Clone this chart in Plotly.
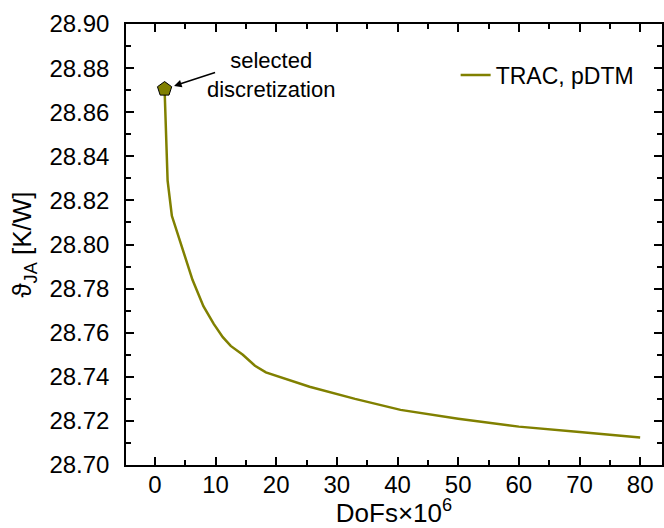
import plotly.graph_objects as go

# Data
dofs = [1.6, 1.8, 2.1, 2.8, 3.6, 4.6, 6.2, 8.0, 9.7, 11.2, 12.5, 14.5, 16.5, 18.3,
        25.5, 33.0, 40.5, 50.0, 60.0, 70.0, 80.0]
theta_ja = [28.8705, 28.850, 28.829, 28.813, 28.806, 28.798, 28.784, 28.772, 28.764,
            28.758, 28.754, 28.750, 28.745, 28.742, 28.7355, 28.730, 28.725, 28.721,
            28.7174, 28.715, 28.7125]
selected_x = [1.6]
selected_y = [28.8705]
series_name = "TRAC, pDTM"
x_title = "DoFs×10<sup>6</sup>"
y_title = "ϑ<sub>JA</sub> [K/W]"

olive = "#808000"
font_family = "Liberation Sans, Arial, sans-serif"

fig = go.Figure()
fig.add_trace(go.Scatter(
    x=dofs, y=theta_ja, mode="lines", name=series_name,
    line=dict(color=olive, width=2.5),
))
fig.add_trace(go.Scatter(
    x=selected_x, y=selected_y, mode="markers", showlegend=False,
    marker=dict(symbol="pentagon", size=15, color=olive,
                line=dict(color="black", width=1)),
))

# arrow (no text)
fig.add_annotation(
    x=selected_x[0], y=selected_y[0], xref="x", yref="y",
    text="", showarrow=True,
    ax=52, ay=-17, axref="pixel", ayref="pixel",
    arrowhead=2, arrowsize=1, arrowwidth=1.5, arrowcolor="black",
    standoff=10,
)
# label text
fig.add_annotation(
    x=selected_x[0], y=selected_y[0], xref="x", yref="y",
    text="selected<br>discretization", showarrow=False,
    xshift=106, yshift=14, align="center",
    font=dict(family=font_family, size=22, color="black"),
)

axis_common = dict(
    showline=True, linecolor="black", linewidth=1.5, mirror="ticks",
    ticks="inside", ticklen=8, tickwidth=1.5, tickcolor="black",
    showgrid=False, zeroline=False,
    tickfont=dict(family=font_family, size=24, color="black"),
)

fig.update_xaxes(
    **axis_common,
    range=[-4.76, 83.6], tick0=0, dtick=10,
    minor=dict(dtick=5, ticks="inside", ticklen=5, tickwidth=1.5, tickcolor="black"),
    title=dict(text=x_title, font=dict(family=font_family, size=26, color="black"),
               standoff=12),
    ticklabelstandoff=-3,
)
fig.update_yaxes(
    **axis_common,
    range=[28.70, 28.90], tick0=28.70, dtick=0.02, tickformat=".2f",
    minor=dict(dtick=0.01, ticks="inside", ticklen=5, tickwidth=1.5, tickcolor="black"),
    title=dict(text=y_title, font=dict(family=font_family, size=26, color="black"),
               standoff=10),
    ticklabelstandoff=10,
)

fig.update_layout(
    width=664, height=528,
    margin=dict(l=126, r=0, t=24, b=63),
    paper_bgcolor="white", plot_bgcolor="white",
    font=dict(family=font_family, color="black"),
    legend=dict(x=0.615, y=0.884, xanchor="left", yanchor="middle",
                bgcolor="rgba(0,0,0,0)", font=dict(family=font_family, size=23),
                itemwidth=30),
)

fig.write_html("out.html")
